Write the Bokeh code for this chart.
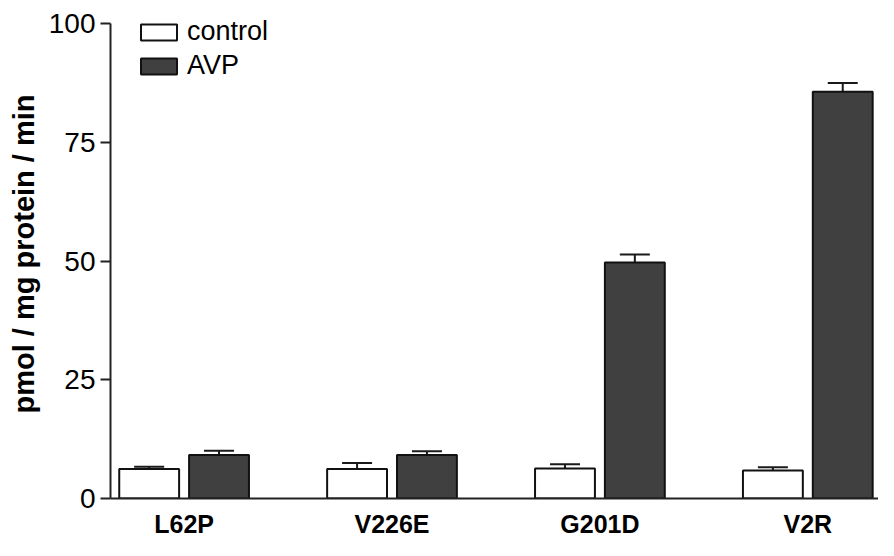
from bokeh.plotting import figure
from bokeh.models import ColumnDataSource, Range1d, FixedTicker, Whisker, TeeHead, Legend, LegendItem
from bokeh.embed import file_html
from bokeh.resources import INLINE
import numpy as np

categories = ["L62P", "V226E", "G201D", "V2R"]
control = [6.2, 6.2, 6.3, 5.9]
control_err = [0.5, 1.3, 0.9, 0.7]
avp = [9.15, 9.15, 49.7, 85.7]
avp_err = [0.9, 0.8, 1.7, 1.8]
y_ticks = [0, 25, 50, 75, 100]

centers = np.arange(len(categories)) + 0.5
off = 0.168
bw = 0.288

src_c = ColumnDataSource(dict(x=centers - off, top=control,
                              up=np.array(control) + np.array(control_err)))
src_a = ColumnDataSource(dict(x=centers + off, top=avp,
                              up=np.array(avp) + np.array(avp_err)))

FONT = "Liberation Sans"

p = figure(width=878, height=540, output_backend="svg", toolbar_location=None,
           x_range=Range1d(0.146, 3.84), y_range=Range1d(0, 103),
           min_border_left=110, min_border_right=0, min_border_top=9, min_border_bottom=39)
p.outline_line_color = None
p.xgrid.visible = False
p.ygrid.visible = False
p.background_fill_color = "white"
p.border_fill_color = "white"

for src in (src_c, src_a):
    w = Whisker(source=src, base="x", upper="up", lower="top", line_width=2, line_color="#1a1a1a",
                upper_head=TeeHead(size=30, line_width=2, line_color="#1a1a1a"), lower_head=None)
    p.add_layout(w)

rc = p.vbar(x="x", top="top", width=bw, source=src_c, fill_color="white", line_color="#111111", line_width=2)
ra = p.vbar(x="x", top="top", width=bw, source=src_a, fill_color="#404040", line_color="#111111", line_width=2)

legend = Legend(items=[LegendItem(label="control", renderers=[rc]), LegendItem(label="AVP", renderers=[ra])],
                location=(26, 417), padding=0, margin=0, spacing=3, glyph_width=45, glyph_height=20,
                label_standoff=6, label_text_font=FONT, label_text_font_size="27px",
                label_text_color="black",
                border_line_color=None, background_fill_alpha=0)
p.add_layout(legend, "center")

p.xaxis.ticker = FixedTicker(ticks=list(centers))
p.xaxis.major_label_overrides = {float(c): n for c, n in zip(centers, categories)}
p.xaxis.major_tick_line_color = None
p.xaxis.minor_tick_line_color = None
p.xaxis.major_label_text_font = FONT
p.xaxis.major_label_text_font_style = "bold"
p.xaxis.major_label_text_font_size = "25px"
p.xaxis.major_label_text_color = "black"
p.xaxis.major_label_standoff = 5
p.xaxis.axis_line_width = 2
p.xaxis.axis_line_color = "#222222"

p.yaxis.ticker = FixedTicker(ticks=y_ticks)
p.yaxis.bounds = (0, 100)
p.yaxis.minor_tick_line_color = None
p.yaxis.major_tick_in = 0
p.yaxis.major_tick_out = 10
p.yaxis.major_tick_line_width = 2
p.yaxis.major_tick_line_color = "#222222"
p.yaxis.axis_line_width = 2
p.yaxis.axis_line_color = "#222222"
p.yaxis.major_label_text_font = FONT
p.yaxis.major_label_text_font_size = "28px"
p.yaxis.major_label_text_color = "black"
p.yaxis.major_label_standoff = 5
p.yaxis.axis_label = "pmol / mg protein / min"
p.yaxis.axis_label_text_font = FONT
p.yaxis.axis_label_text_font_style = "bold"
p.yaxis.axis_label_text_font_size = "29px"
p.yaxis.axis_label_text_color = "black"
p.yaxis.axis_label_standoff = 6

open("out.html", "w").write(file_html(p, INLINE))
